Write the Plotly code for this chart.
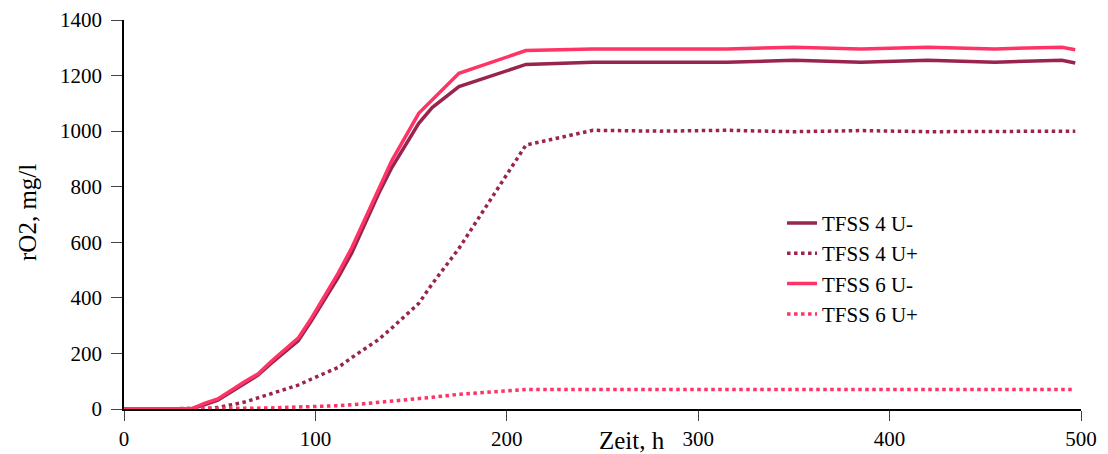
import plotly.graph_objects as go

# time points, h
t = [0, 10, 20, 35, 42, 49, 63, 70, 77, 91, 98, 112, 119, 133, 140, 154, 161, 175,
     210, 245, 280, 315, 350, 385, 420, 455, 490, 497]

tfss4_uminus = [0, 0, 0, 0, 15, 32, 92, 122, 165, 245, 318, 475, 562, 775, 870, 1028, 1085, 1160,
                1240, 1248, 1248, 1248, 1255, 1248, 1255, 1248, 1255, 1245]
tfss4_uplus = [0, 0, 0, 0, 2, 5, 25, 40, 56, 86, 108, 150, 185, 250, 292, 380, 450, 578,
               950, 1003, 1000, 1003, 998, 1002, 998, 999, 1000, 1000]
tfss6_uminus = [0, 0, 0, 0, 20, 36, 98, 126, 172, 255, 328, 490, 580, 795, 895, 1064, 1112, 1208,
                1290, 1296, 1296, 1296, 1302, 1296, 1302, 1296, 1302, 1293]
tfss6_uplus = [0, 0, 0, 0, 0, 0, 2, 3, 4, 6, 7, 12, 15, 24, 28, 36, 42, 53,
               70, 70, 70, 70, 70, 70, 70, 70, 70, 70]

names = ["TFSS 4 U-", "TFSS 4 U+", "TFSS 6 U-", "TFSS 6 U+"]
series = [tfss4_uminus, tfss4_uplus, tfss6_uminus, tfss6_uplus]
colors = ["#99244F", "#99244F", "#FF3366", "#FF3366"]
dashes = ["solid", "dot", "solid", "dot"]

x_ticks = [0, 100, 200, 300, 400, 500]
y_ticks = [0, 200, 400, 600, 800, 1000, 1200, 1400]

fig = go.Figure()
for n, s, c, d in zip(names, series, colors, dashes):
    fig.add_trace(go.Scatter(x=t, y=s, name=n, mode="lines",
                             line=dict(color=c, width=3.5, dash=d)))

font_family = "Liberation Serif, Times New Roman, serif"
fig.update_layout(
    width=1108, height=454,
    margin=dict(l=124, r=27, t=20, b=45),
    paper_bgcolor="white", plot_bgcolor="white",
    font=dict(family=font_family, size=21, color="black"),
    showlegend=True,
    legend=dict(x=0.6876, y=0.53, xanchor="left", yanchor="top",
                bgcolor="rgba(0,0,0,0)", font=dict(size=21, family=font_family),
                tracegroupgap=0, itemwidth=30),
    xaxis=dict(range=[0, 500], tickvals=x_ticks, ticks="outside", ticklen=10,
               tickcolor="#444444", tickwidth=1, showline=True, linecolor="black",
               linewidth=1.5, showgrid=False, zeroline=False, automargin=False,
               tickfont=dict(size=21, family=font_family)),
    yaxis=dict(range=[0, 1400], tickvals=y_ticks, ticks="outside", ticklen=11,
               tickcolor="#444444", tickwidth=1, showline=True, linecolor="black",
               linewidth=1.5, showgrid=False, zeroline=False, automargin=False,
               tickfont=dict(size=21, family=font_family), ticklabelstandoff=5),
    annotations=[
        dict(text="Zeit, h", xref="paper", yref="paper", x=0.531, y=-0.082,
             xanchor="center", yanchor="middle", showarrow=False,
             font=dict(size=25, family=font_family)),
        dict(text="rO2, mg/l", xref="paper", yref="paper", x=-0.1003, y=0.504,
             xanchor="center", yanchor="middle", showarrow=False, textangle=-90,
             font=dict(size=25, family=font_family)),
    ],
)

fig.write_html("out.html")
